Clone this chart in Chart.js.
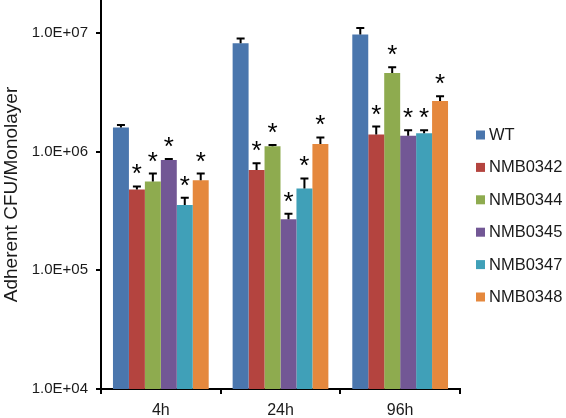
<!DOCTYPE html>
<html>
<head>
<meta charset="utf-8">
<title>Adherent CFU</title>
<script src="https://cdn.jsdelivr.net/npm/chart.js@4.4.1/dist/chart.umd.min.js"></script>
<style>
  html, body { margin: 0; padding: 0; background: #fff; }
  #wrap { width: 566px; height: 418px; position: relative; }
</style>
</head>
<body>
<div id="wrap"><canvas id="adherenceChart"></canvas></div>
<script>
// categories and tick labels
const timePoints = ["4h", "24h", "96h"];
const strains = ["WT", "NMB0342", "NMB0344", "NMB0345", "NMB0347", "NMB0348"];
const yTicks = [1e4, 1e5, 1e6, 1e7];

// mean adherent CFU per strain, one value per time point
const wtMeans = [1.6e6, 8.2e6, 9.75e6];
const nmb0342Means = [4.8e5, 7.0e5, 1.4e6];
const nmb0344Means = [5.6e5, 1.11e6, 4.6e6];
const nmb0345Means = [8.5e5, 2.7e5, 1.36e6];
const nmb0347Means = [3.55e5, 4.9e5, 1.43e6];
const nmb0348Means = [5.75e5, 1.16e6, 2.67e6];

// upper error (SD)
const wtErrors = [0.08e6, 0.8e6, 1.3e6];
const nmb0342Errors = [0.3e5, 1.0e5, 2.3e5];
const nmb0344Errors = [0.95e5, 0.3e5, 5.6e5];
const nmb0345Errors = [0.2e5, 0.3e5, 1.6e5];
const nmb0347Errors = [0.55e5, 1.05e5, 0.9e5];
const nmb0348Errors = [0.8e5, 1.6e5, 2.7e5];

// significance vs WT
const wtStars = [false, false, false];
const mutantStars = [true, true, true];

const colors = ["#4a76ad", "#b4443f", "#8eab4f", "#725795", "#40a0b8", "#e5883d"];

const means = [wtMeans, nmb0342Means, nmb0344Means, nmb0345Means, nmb0347Means, nmb0348Means];
const errors = [wtErrors, nmb0342Errors, nmb0344Errors, nmb0345Errors, nmb0347Errors, nmb0348Errors];

const textColor = "#1a1a1a";

const errorBarPlugin = {
  id: "errorBars",
  afterDatasetsDraw(chart) {
    const ctx = chart.ctx;
    const yScale = chart.scales.y;
    chart.data.datasets.forEach((ds, i) => {
      const meta = chart.getDatasetMeta(i);
      meta.data.forEach((bar, j) => {
        const top = yScale.getPixelForValue(ds.data[j] + ds.errors[j]);
        ctx.save();
        ctx.strokeStyle = "#000";
        ctx.lineWidth = 2;
        ctx.beginPath();
        ctx.moveTo(bar.x, bar.y);
        ctx.lineTo(bar.x, top);
        ctx.moveTo(bar.x - 4, top);
        ctx.lineTo(bar.x + 4, top);
        ctx.stroke();
        if (ds.stars[j]) {
          ctx.font = "26px 'Liberation Sans', Arial, sans-serif";
          ctx.fillStyle = "#000";
          ctx.textAlign = "center";
          ctx.textBaseline = "alphabetic";
          const m = ctx.measureText("*");
          const center = top - 17;
          const base = center + (m.actualBoundingBoxAscent - m.actualBoundingBoxDescent) / 2;
          ctx.fillText("*", bar.x, base);
        }
        ctx.restore();
      });
    });
  }
};

const legendPlugin = {
  id: "sideLegend",
  afterDraw(chart) {
    const ctx = chart.ctx;
    ctx.save();
    ctx.font = "16.5px 'Liberation Sans', Arial, sans-serif";
    ctx.textBaseline = "middle";
    ctx.textAlign = "left";
    chart.data.datasets.forEach((ds, i) => {
      const yc = 135 + i * 32.4;
      ctx.fillStyle = ds.backgroundColor;
      ctx.fillRect(476, yc - 4.5, 9, 9);
      ctx.fillStyle = textColor;
      ctx.fillText(ds.label, 489, yc + 0.5);
    });
    ctx.restore();
  }
};

const datasets = strains.map((name, i) => ({
  label: name,
  data: means[i],
  errors: errors[i],
  stars: i === 0 ? wtStars : mutantStars,
  backgroundColor: colors[i],
  borderWidth: 0,
  categoryPercentage: 0.8,
  barPercentage: 1.0,
}));

const adherenceChart = new Chart(document.getElementById("adherenceChart"), {
  type: "bar",
  data: {
    labels: timePoints,
    datasets: datasets,
  },
  options: {
    responsive: true,
    maintainAspectRatio: false,
    animation: false,
    devicePixelRatio: 1,
    layout: {
      padding: { left: 0, right: 106, top: 0, bottom: 0 },
    },
    plugins: {
      legend: { display: false },
      tooltip: { enabled: false },
    },
    scales: {
      x: {
        grid: {
          offset: true,
          drawOnChartArea: false,
          color: "#000",
          lineWidth: 2,
          tickLength: 5,
        },
        border: { color: "#000", width: 2 },
        ticks: {
          color: textColor,
          padding: 7,
          font: { family: "'Liberation Sans', Arial, sans-serif", size: 16 },
        },
        afterFit(scale) {
          scale.height = 29;
          scale.paddingLeft = 0;
          scale.paddingRight = 0;
        },
      },
      y: {
        type: "logarithmic",
        min: 1e4,
        max: 1.9e7,
        grid: {
          drawOnChartArea: false,
          color: "#000",
          lineWidth: 2,
          tickLength: 5,
        },
        border: { color: "#000", width: 2 },
        afterBuildTicks(scale) {
          scale.ticks = yTicks.map((v) => ({ value: v }));
        },
        ticks: {
          color: textColor,
          padding: 8,
          font: { family: "'Liberation Sans', Arial, sans-serif", size: 15 },
          callback: (value) =>
            "1.0E+" + String(Math.round(Math.log10(value))).padStart(2, "0"),
        },
        title: {
          display: true,
          text: "Adherent CFU/Monolayer",
          color: textColor,
          padding: { top: 0, bottom: 0 },
          font: { family: "'Liberation Sans', Arial, sans-serif", size: 19 },
        },
        afterFit(scale) {
          scale.width = 101;
          scale.paddingTop = 0;
          scale.paddingBottom = 0;
        },
      },
    },
  },
  plugins: [errorBarPlugin, legendPlugin],
});
</script>
</body>
</html>
